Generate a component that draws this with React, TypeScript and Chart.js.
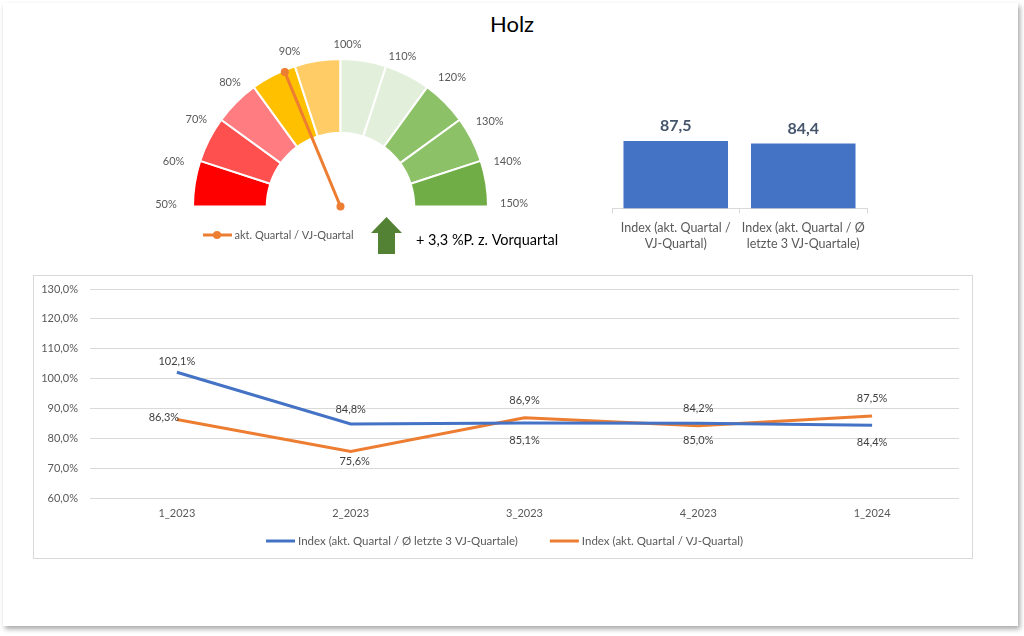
import React, { useEffect, useRef } from 'react';
import { Chart, registerables } from 'chart.js';

Chart.register(...registerables);

const FONT = 'Lato, "Open Sans", sans-serif';

const chartTitle = 'Holz';

// ---- Gauge (Tacho) ----
const gaugeTickLabels = ['50%', '60%', '70%', '80%', '90%', '100%', '110%', '120%', '130%', '140%', '150%'];
const gaugeBandSizes = [10, 10, 10, 10, 10, 10, 10, 10, 10, 10];
const gaugeBandColors = ['#FF0000', '#FF5050', '#FF7C80', '#FFC000', '#FFCC66', '#E2EFDA', '#E2EFDA', '#8CC168', '#8CC168', '#70AD47'];
const gaugeMin = 50;
const gaugeMax = 150;
const gaugeValue = 87.5;
const gaugeLegendLabel = 'akt. Quartal / VJ-Quartal';
const changeVsPrevQuarter = 3.3;

// ---- Bars ----
const barCategoryLabels = [
  ['Index (akt. Quartal /', 'VJ-Quartal)'],
  ['Index (akt. Quartal / Ø', 'letzte 3 VJ-Quartale)'],
];
const barValues = [87.5, 84.4];

// ---- Lines ----
const quarters = ['1_2023', '2_2023', '3_2023', '4_2023', '1_2024'];
const indexAvg3Name = 'Index (akt. Quartal / Ø letzte 3 VJ-Quartale)';
const indexAvg3 = [102.1, 84.8, 85.1, 85.0, 84.4];
const indexYoYName = 'Index (akt. Quartal / VJ-Quartal)';
const indexYoY = [86.3, 75.6, 86.9, 84.2, 87.5];
const yAxisMin = 60;
const yAxisMax = 130;
const yAxisStep = 10;

// label placement (style only)
const gaugeLabelNudges = [[0, -2], [-1, 5], [-3, 9], [-8, 8], [3, 0], [7, 1], [8, 5], [9, 3], [8, 11], [1, 5], [-1, -3]];
const avgLabelOffsets = [[0, -11], [0, -15], [0, 17], [0, 17], [0, 17]];
const yoyLabelOffsets = [[-13, -2], [4, 10], [0, -17], [0, -17], [0, -17]];

const fmt1 = (v: number) => v.toFixed(1).replace('.', ',');

const gaugePlugin = {
  id: 'gaugeExtras',
  afterDatasetsDraw(chart: any) {
    const arc = chart.getDatasetMeta(0).data[0];
    if (!arc) return;
    const cx = arc.x;
    const cy = arc.y;
    const R = arc.outerRadius;
    const ctx = chart.ctx;
    ctx.save();
    ctx.font = `11px ${FONT}`;
    ctx.fillStyle = '#595959';
    ctx.textAlign = 'center';
    ctx.textBaseline = 'middle';
    const n = gaugeTickLabels.length - 1;
    gaugeTickLabels.forEach((t, i) => {
      const a = Math.PI + (i / n) * Math.PI;
      const [nx, ny] = gaugeLabelNudges[i];
      ctx.fillText(t, cx + Math.cos(a) * (R + 27) + nx, cy + Math.sin(a) * (R + 16) + ny);
    });
    // needle
    const a = Math.PI + ((gaugeValue - gaugeMin) / (gaugeMax - gaugeMin)) * Math.PI;
    const L = R - 2;
    const tx = cx + Math.cos(a) * L;
    const ty = cy + Math.sin(a) * L;
    ctx.strokeStyle = '#ED7D31';
    ctx.fillStyle = '#ED7D31';
    ctx.lineWidth = 3;
    ctx.beginPath();
    ctx.moveTo(cx, cy);
    ctx.lineTo(tx, ty);
    ctx.stroke();
    [[cx, cy], [tx, ty]].forEach(([px, py]) => {
      ctx.beginPath();
      ctx.arc(px, py, 4, 0, Math.PI * 2);
      ctx.fill();
    });
    // legend
    const ly = cy + 28.5;
    ctx.beginPath();
    ctx.moveTo(cx - 137.5, ly);
    ctx.lineTo(cx - 108.5, ly);
    ctx.stroke();
    ctx.beginPath();
    ctx.arc(cx - 123.5, ly, 4, 0, Math.PI * 2);
    ctx.fill();
    ctx.fillStyle = '#595959';
    ctx.textAlign = 'left';
    ctx.fillText(gaugeLegendLabel, cx - 106, ly);
    // arrow
    ctx.fillStyle = '#548235';
    ctx.beginPath();
    ctx.moveTo(cx + 46, cy + 10.5);
    ctx.lineTo(cx + 61.5, cy + 26.5);
    ctx.lineTo(cx + 54.5, cy + 26.5);
    ctx.lineTo(cx + 54.5, cy + 47.5);
    ctx.lineTo(cx + 37.5, cy + 47.5);
    ctx.lineTo(cx + 37.5, cy + 26.5);
    ctx.lineTo(cx + 30.5, cy + 26.5);
    ctx.closePath();
    ctx.fill();
    ctx.fillStyle = '#000000';
    ctx.font = `14.5px ${FONT}`;
    const sign = changeVsPrevQuarter >= 0 ? '+' : '-';
    ctx.fillText(`${sign} ${fmt1(Math.abs(changeVsPrevQuarter))} %P. z. Vorquartal`, cx + 75.5, cy + 34);
    ctx.restore();
  },
};

const barValuePlugin = {
  id: 'barValues',
  afterDatasetsDraw(chart: any) {
    const ctx = chart.ctx;
    const meta = chart.getDatasetMeta(0);
    ctx.save();
    ctx.font = `bold 16px ${FONT}`;
    ctx.fillStyle = '#44546A';
    ctx.textAlign = 'center';
    ctx.textBaseline = 'middle';
    meta.data.forEach((bar: any, i: number) => {
      ctx.fillText(fmt1(chart.data.datasets[0].data[i]), bar.x, bar.y - 15);
    });
    ctx.restore();
  },
};

const lineLabelPlugin = {
  id: 'lineLabels',
  afterDatasetsDraw(chart: any) {
    const ctx = chart.ctx;
    const offsets = [avgLabelOffsets, yoyLabelOffsets];
    ctx.save();
    ctx.font = `11px ${FONT}`;
    ctx.fillStyle = '#404040';
    ctx.textAlign = 'center';
    ctx.textBaseline = 'middle';
    chart.data.datasets.forEach((ds: any, di: number) => {
      const meta = chart.getDatasetMeta(di);
      meta.data.forEach((pt: any, i: number) => {
        const [dx, dy] = offsets[di][i];
        ctx.fillText(fmt1(ds.data[i]) + '%', pt.x + dx, pt.y + dy);
      });
    });
    ctx.restore();
  },
};

const lineLegendPlugin = {
  id: 'lineLegend',
  afterDraw(chart: any) {
    const ctx = chart.ctx;
    ctx.save();
    ctx.font = `11.5px ${FONT}`;
    ctx.textBaseline = 'middle';
    ctx.textAlign = 'left';
    const sample = 29;
    const gap = 3;
    const between = 32;
    const items = chart.data.datasets.map((ds: any) => ({
      label: ds.label,
      color: ds.borderColor,
      w: ctx.measureText(ds.label).width,
    }));
    const total = items.reduce((s: number, it: any) => s + sample + gap + it.w, 0) + between * (items.length - 1);
    let x = chart.width / 2 - total / 2 + 1.5;
    const y = chart.chartArea.bottom + 43;
    items.forEach((it: any) => {
      ctx.strokeStyle = it.color;
      ctx.lineWidth = 3;
      ctx.beginPath();
      ctx.moveTo(x, y);
      ctx.lineTo(x + sample, y);
      ctx.stroke();
      ctx.fillStyle = '#595959';
      ctx.fillText(it.label, x + sample + gap, y);
      x += sample + gap + it.w + between;
    });
    ctx.restore();
  },
};

function GaugeChart() {
  const ref = useRef<HTMLCanvasElement>(null);
  useEffect(() => {
    const chart = new Chart(ref.current as HTMLCanvasElement, {
      type: 'doughnut',
      data: {
        labels: gaugeTickLabels.slice(0, -1),
        datasets: [
          {
            data: gaugeBandSizes,
            backgroundColor: gaugeBandColors,
            borderColor: '#FFFFFF',
            borderWidth: 2,
          },
        ],
      },
      options: {
        responsive: false,
        animation: false,
        events: [],
        rotation: -90,
        circumference: 180,
        cutout: '50%',
        layout: { padding: { left: 52, right: 91, top: 28, bottom: 62.5 } },
        plugins: { legend: { display: false }, tooltip: { enabled: false } },
      },
      plugins: [gaugePlugin],
    } as any);
    return () => chart.destroy();
  }, []);
  return <canvas ref={ref} width={440} height={240} style={{ display: 'block' }} />;
}

function BarChart() {
  const ref = useRef<HTMLCanvasElement>(null);
  useEffect(() => {
    const chart = new Chart(ref.current as HTMLCanvasElement, {
      type: 'bar',
      data: {
        labels: barCategoryLabels,
        datasets: [
          {
            data: barValues,
            backgroundColor: '#4472C4',
            barPercentage: 0.82,
            categoryPercentage: 1,
          },
        ],
      },
      options: {
        responsive: false,
        animation: false,
        events: [],
        layout: { padding: { left: 22, right: 33, top: 31.4, bottom: 1.5 } },
        plugins: { legend: { display: false }, tooltip: { enabled: false } },
        scales: {
          x: {
            afterFit: (s: any) => {
              s.height = 45;
            },
            grid: { drawOnChartArea: false, drawTicks: true, tickLength: 5, color: '#D9D9D9', offset: true },
            border: { display: true, color: '#D9D9D9' },
            ticks: {
              color: '#595959',
              font: { family: FONT, size: 12.5, lineHeight: 1.3 },
              padding: 6,
              maxRotation: 0,
              autoSkip: false,
            },
          },
          y: { display: false, min: 0, max: 100 },
        },
      },
      plugins: [barValuePlugin],
    } as any);
    return () => chart.destroy();
  }, []);
  return <canvas ref={ref} width={310} height={155} style={{ display: 'block' }} />;
}

function LineChart() {
  const ref = useRef<HTMLCanvasElement>(null);
  useEffect(() => {
    const chart = new Chart(ref.current as HTMLCanvasElement, {
      type: 'line',
      data: {
        labels: quarters,
        datasets: [
          {
            label: indexAvg3Name,
            data: indexAvg3,
            borderColor: '#4472C4',
            backgroundColor: '#4472C4',
            borderWidth: 3,
            pointRadius: 0,
            tension: 0,
            fill: false,
          },
          {
            label: indexYoYName,
            data: indexYoY,
            borderColor: '#ED7D31',
            backgroundColor: '#ED7D31',
            borderWidth: 3,
            pointRadius: 0,
            tension: 0,
            fill: false,
          },
        ],
      },
      options: {
        responsive: false,
        animation: false,
        events: [],
        layout: { padding: { left: 0, right: 14, top: 14, bottom: 31 } },
        plugins: { legend: { display: false }, tooltip: { enabled: false } },
        scales: {
          x: {
            offset: true,
            afterFit: (s: any) => {
              s.height = 30;
            },
            grid: { display: false },
            border: { display: false },
            ticks: { color: '#595959', font: { family: FONT, size: 11 }, padding: 1, maxRotation: 0 },
          },
          y: {
            min: yAxisMin,
            max: yAxisMax,
            afterFit: (s: any) => {
              s.width = 57;
            },
            grid: { color: '#D9D9D9', drawTicks: true, tickLength: 8, tickColor: 'rgba(0,0,0,0)' },
            border: { display: false },
            ticks: {
              stepSize: yAxisStep,
              padding: 4,
              color: '#595959',
              font: { family: FONT, size: 11 },
              callback: (v: any) => fmt1(Number(v)) + '%',
            },
          },
        },
      },
      plugins: [lineLabelPlugin, lineLegendPlugin],
    } as any);
    return () => chart.destroy();
  }, []);
  return <canvas ref={ref} width={940} height={284} style={{ display: 'block' }} />;
}

export default function App() {
  return (
    <div
      style={{
        position: 'fixed',
        left: 0,
        top: 0,
        width: 1024,
        height: 636,
        background: '#FFFFFF',
        overflow: 'hidden',
        fontFamily: FONT,
      }}
    >
      <div
        style={{
          position: 'absolute',
          left: 3,
          top: 3,
          width: 1015,
          height: 623,
          background: '#FFFFFF',
          boxShadow: '2px 3px 5px rgba(0,0,0,0.35)',
        }}
      />
      <div
        style={{
          position: 'absolute',
          left: 0,
          top: 10,
          width: 1024,
          height: 28,
          lineHeight: '28px',
          textAlign: 'center',
          fontSize: 22,
          color: '#000000',
        }}
      >
        {chartTitle}
      </div>
      <div style={{ position: 'absolute', left: 140, top: 30 }}>
        <GaugeChart />
      </div>
      <div style={{ position: 'absolute', left: 590, top: 100 }}>
        <BarChart />
      </div>
      <div
        style={{
          position: 'absolute',
          left: 33,
          top: 275,
          width: 940,
          height: 284,
          border: '1px solid #D9D9D9',
          boxSizing: 'border-box',
        }}
      />
      <div style={{ position: 'absolute', left: 33, top: 275 }}>
        <LineChart />
      </div>
    </div>
  );
}
